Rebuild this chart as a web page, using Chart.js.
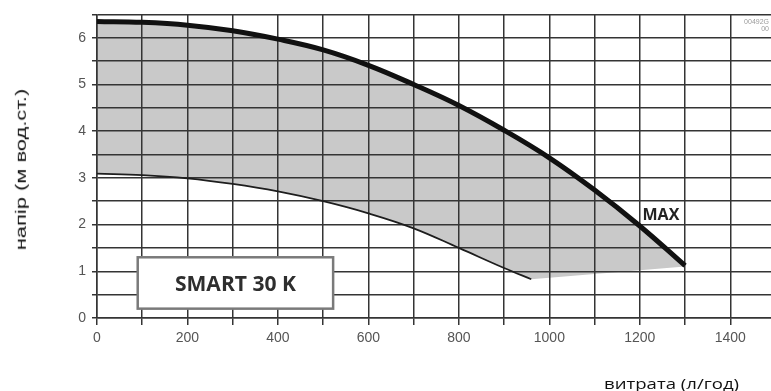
<!DOCTYPE html>
<html>
<head>
<meta charset="utf-8">
<script src="https://cdn.jsdelivr.net/npm/chart.js@4.4.1/dist/chart.umd.min.js"></script>
<style>
  html, body { margin: 0; padding: 0; background: #fff; }
  #wrap { position: relative; width: 771px; height: 391px; overflow: hidden; }
  #c { position: absolute; left: 0; top: 0; }
  .lab { position: absolute; left: 0; top: 0; white-space: nowrap; line-height: 1; color: #111; transform-origin: center center; }
  #ylab { font: 15px 'Liberation Sans', Arial, sans-serif; }
  #xlab { font: 15px 'Open Sans', sans-serif; }
</style>
</head>
<body>
<div id="wrap">
  <canvas id="c" width="771" height="391"></canvas>
  <div id="ylab" class="lab">напір (м вод.ст.)</div>
  <div id="xlab" class="lab">витрата (л/год)</div>
</div>
<script>
// ---- data ----
const flowMax = [0, 100, 200, 300, 400, 500, 600, 700, 800, 900, 1000, 1100, 1200, 1300];
const headMax = [6.35, 6.33, 6.27, 6.15, 5.97, 5.74, 5.41, 5.00, 4.55, 4.02, 3.43, 2.74, 1.97, 1.12];
const flowMin = [0, 100, 200, 300, 400, 500, 600, 700, 800, 900, 960];
const headMin = [3.09, 3.06, 2.99, 2.87, 2.71, 2.50, 2.24, 1.92, 1.50, 1.07, 0.83];
const edgeFlow = [1300];          // lower edge of the working area, right end
const edgeHead = [1.10];
const xGrid = [0, 100, 200, 300, 400, 500, 600, 700, 800, 900, 1000, 1100, 1200, 1300, 1400];
const xTickLabels = [0, 200, 400, 600, 800, 1000, 1200, 1400];
const yGrid = [0, 0.5, 1, 1.5, 2, 2.5, 3, 3.5, 4, 4.5, 5, 5.5, 6, 6.5];
const yTickLabels = [0, 1, 2, 3, 4, 5, 6];
const modelName = 'SMART 30 K';
const curveName = 'MAX';
const drawingCode = ['00492G', '00'];

const toXY = (xs, ys) => xs.map((x, i) => ({ x, y: ys[i] }));
const maxPts = toXY(flowMax, headMax);
const minPts = toXY(flowMin, headMin);
const edgePts = minPts.concat(toXY(edgeFlow, edgeHead));

const GRID = '#343434';
const hasLabel = (list, v) => list.some(t => Math.abs(t - v) < 1e-6);

const annotations = {
  id: 'annotations',
  afterDatasetsDraw(chart) {
    const { ctx, scales: { x, y }, chartArea } = chart;
    ctx.save();
    // model box
    const bx0 = x.getPixelForValue(90), bx1 = x.getPixelForValue(522);
    const by0 = y.getPixelForValue(1.3), by1 = y.getPixelForValue(0.2);
    ctx.fillStyle = '#fff';
    ctx.fillRect(bx0, by0, bx1 - bx0, by1 - by0);
    ctx.strokeStyle = '#7a7a7a';
    ctx.lineWidth = 2.5;
    ctx.strokeRect(bx0, by0, bx1 - bx0, by1 - by0);
    ctx.fillStyle = '#2e2e2e';
    ctx.font = "bold 20px 'Open Sans', sans-serif";
    const mw = ctx.measureText(modelName).width;
    const fs = 20 * 121 / mw;
    ctx.font = "bold " + fs.toFixed(2) + "px 'Open Sans', sans-serif";
    ctx.textAlign = 'center';
    ctx.textBaseline = 'alphabetic';
    ctx.fillText(modelName, (bx0 + bx1) / 2, 290.5);
    // MAX label
    ctx.font = "bold 16px 'Open Sans', sans-serif";
    ctx.textAlign = 'left';
    ctx.fillStyle = '#222';
    ctx.fillText(curveName, x.getPixelForValue(1206), y.getPixelForValue(2.1));
    // drawing code
    ctx.font = "7px 'Liberation Sans', Arial, sans-serif";
    ctx.fillStyle = '#9a9a9a';
    ctx.textAlign = 'right';
    ctx.fillText(drawingCode[0], chartArea.right - 2, chartArea.top + 10);
    ctx.fillText(drawingCode[1], chartArea.right - 2, chartArea.top + 17);
    ctx.restore();
  }
};

new Chart(document.getElementById('c'), {
  type: 'line',
  data: {
    datasets: [
      {
        label: 'MAX',
        data: maxPts,
        borderColor: '#111',
        borderWidth: 5,
        pointRadius: 0,
        tension: 0.4,
        fill: { target: 1 },
        backgroundColor: '#c9c9c9',
        order: 0
      },
      {
        label: 'edge',
        data: edgePts,
        borderWidth: 0,
        borderColor: 'rgba(0,0,0,0)',
        pointRadius: 0,
        tension: 0,
        fill: false,
        order: 2
      },
      {
        label: 'MIN',
        data: minPts,
        borderColor: '#1e1e1e',
        borderWidth: 1.8,
        pointRadius: 0,
        tension: 0.4,
        fill: false,
        order: 1
      }
    ]
  },
  options: {
    responsive: false,
    animation: false,
    events: [],
    layout: { padding: { top: 11, left: 0, right: 0, bottom: 0 } },
    plugins: {
      legend: { display: false },
      tooltip: { enabled: false },
      filler: { drawTime: 'beforeDraw' }
    },
    scales: {
      x: {
        type: 'linear',
        min: 0,
        max: 1490,
        afterBuildTicks(s) { s.ticks = xGrid.map(v => ({ value: v })); },
        afterFit(s) { s.height = 73; },
        ticks: {
          autoSkip: false,
          maxRotation: 0,
          minRotation: 0,
          padding: 5,
          color: '#555',
          font: { family: "'Liberation Sans', Arial, sans-serif", size: 14 },
          callback: function (v) { return hasLabel(xTickLabels, Number(v)) ? String(Math.round(v)) : ''; }
        },
        grid: { color: GRID, lineWidth: 1.5, tickLength: 7, drawTicks: true },
        border: { color: GRID, width: 1.5 }
      },
      y: {
        type: 'linear',
        min: 0,
        max: 6.5,
        afterBuildTicks(s) { s.ticks = yGrid.map(v => ({ value: v })); },
        afterFit(s) { s.width = 97; },
        ticks: {
          autoSkip: false,
          padding: 6,
          color: '#555',
          font: { family: "'Liberation Sans', Arial, sans-serif", size: 14 },
          callback: function (v) { return hasLabel(yTickLabels, Number(v)) ? String(Math.round(v)) : ''; }
        },
        grid: { color: GRID, lineWidth: 1.5, tickLength: 5, drawTicks: true },
        border: { color: GRID, width: 1.5 }
      }
    }
  },
  plugins: [annotations]
});

function placeLabel(id, cx, cy, len, rotate) {
  const el = document.getElementById(id);
  const w = el.offsetWidth, h = el.offsetHeight;
  el.style.left = (cx - w / 2) + 'px';
  el.style.top = (cy - h / 2) + 'px';
  const s = len / w;
  el.style.transform = (rotate ? 'rotate(-90deg) ' : '') + 'scaleX(' + s.toFixed(3) + ')';
}
placeLabel('ylab', 20, 169, 162, true);
placeLabel('xlab', 671.5, 383, 135, false);
</script>
</body>
</html>
